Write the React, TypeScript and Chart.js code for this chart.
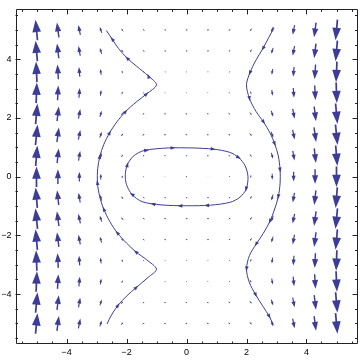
import React, { useEffect, useRef } from "react";
import { Chart, registerables } from "chart.js";

Chart.register(...registerables);

// ---- axis ranges & ticks ----
const xRange = [-5.7, 5.7];
const yRange = [-5.7, 5.7];
const majorTicks = [-4, -2, 0, 2, 4];
const minorTicks = [-5.5, -5, -4.5, -3.5, -3, -2.5, -1.5, -1, -0.5, 0.5, 1, 1.5, 2.5, 3, 3.5, 4.5, 5, 5.5];

// ---- vector field grid (15 x 15) ----
const gridX = [-5, -4.286, -3.571, -2.857, -2.143, -1.429, -0.714, 0, 0.714, 1.429, 2.143, 2.857, 3.571, 4.286, 5];
const gridY = [-5, -4.286, -3.571, -2.857, -2.143, -1.429, -0.714, 0, 0.714, 1.429, 2.143, 2.857, 3.571, 4.286, 5];
// vertical component of the drawn arrows per column (data units)
const columnVy = [0.7, 0.5, 0.33, 0.2, 0.09, 0.035, 0.01, 0, -0.01, -0.035, -0.09, -0.2, -0.33, -0.5, -0.7];
// horizontal component of the drawn arrows per row (data units)
const rowVx = [0.065, 0.06, 0.03, -0.025, -0.06, -0.068, -0.055, 0, 0.055, 0.068, 0.06, 0.025, -0.03, -0.06, -0.065];

// ---- stream lines (in flow order) ----
const leftStream = [
  [-2.65, -5.02], [-2.5, -4.71], [-2.28, -4.38], [-2.0, -4.07], [-1.67, -3.77], [-1.28, -3.43], [-1.0, -3.15],
  [-1.33, -2.83], [-1.69, -2.56], [-2.0, -2.26], [-2.31, -1.91], [-2.56, -1.52], [-2.76, -1.1], [-2.89, -0.69],
  [-2.97, -0.2], [-2.96, 0.27], [-2.89, 0.69], [-2.76, 1.09], [-2.56, 1.5], [-2.32, 1.87], [-2.03, 2.22],
  [-1.68, 2.54], [-1.33, 2.82], [-1.0, 3.13], [-1.27, 3.43], [-1.66, 3.76], [-1.98, 4.04], [-2.26, 4.36],
  [-2.48, 4.69], [-2.67, 4.98],
];
const rightStream = [
  [2.92, 5.07], [2.74, 4.74], [2.55, 4.37], [2.32, 3.98], [2.11, 3.53], [2.0, 3.13], [2.1, 2.66], [2.32, 2.22],
  [2.57, 1.86], [2.78, 1.5], [2.94, 1.12], [3.06, 0.71], [3.12, 0.23], [3.12, -0.22], [3.06, -0.68], [2.94, -1.1],
  [2.78, -1.52], [2.56, -1.93], [2.32, -2.3], [2.1, -2.68], [2.0, -3.14], [2.09, -3.59], [2.31, -4.03],
  [2.55, -4.42], [2.76, -4.76], [2.89, -5.04],
];
const loopStream = [
  [0.22, 0.98], [0.89, 0.94], [1.44, 0.83], [1.74, 0.65], [1.95, 0.38], [2.05, 0.0], [1.99, -0.42], [1.78, -0.7],
  [1.46, -0.87], [0.8, -0.97], [0.0, -0.99], [-0.85, -0.96], [-1.48, -0.85], [-1.82, -0.6], [-2.0, -0.27],
  [-2.04, 0.07], [-1.97, 0.41], [-1.77, 0.7], [-1.42, 0.89], [-0.6, 0.98], [0.22, 0.98],
];

// ---- arrowhead positions on the stream lines ----
const leftArrows = [
  [-2.28, -4.38], [-1.67, -3.77], [-1.69, -2.56], [-2.31, -1.91], [-2.76, -1.1], [-2.97, -0.2], [-2.89, 0.69],
  [-2.56, 1.5], [-2.03, 2.22], [-1.33, 2.82], [-1.27, 3.43], [-1.98, 4.04], [-2.48, 4.69],
];
const rightArrows = [
  [2.55, 4.37], [2.11, 3.53], [2.1, 2.66], [2.57, 1.86], [2.94, 1.12], [3.12, 0.23], [3.06, -0.68], [2.78, -1.52],
  [2.32, -2.3], [2.0, -3.14], [2.31, -4.03], [2.76, -4.76],
];
const loopArrows = [
  [-1.33, 0.9], [-0.45, 0.98], [0.89, 0.94], [1.74, 0.65], [1.99, -0.42], [0.67, -0.98], [-0.22, -0.99],
  [-1.12, -0.93], [-1.82, -0.6], [-1.97, 0.41],
];

const COLOR = "rgb(61,61,153)";
const FONT = "'Liberation Sans', Arial, sans-serif";

function fmt(v: number) {
  return v < 0 ? "\u2212" + Math.abs(v) : String(v);
}

function drawHead(ctx: CanvasRenderingContext2D, tx: number, ty: number, ux: number, uy: number, len: number, w: number) {
  const bx = tx - ux * len;
  const by = ty - uy * len;
  const px = -uy;
  const py = ux;
  ctx.beginPath();
  ctx.moveTo(tx, ty);
  ctx.lineTo(bx + px * w / 2, by + py * w / 2);
  ctx.lineTo(bx - px * w / 2, by - py * w / 2);
  ctx.closePath();
  ctx.fill();
}

const vectorPlugin = {
  id: "vectorField",
  beforeDatasetsDraw(chart: any) {
    const { ctx, chartArea, scales } = chart;
    const sx = scales.x;
    const sy = scales.y;
    ctx.save();
    ctx.beginPath();
    ctx.rect(chartArea.left, chartArea.top, chartArea.right - chartArea.left, chartArea.bottom - chartArea.top);
    ctx.clip();
    ctx.fillStyle = COLOR;
    ctx.strokeStyle = COLOR;
    for (let i = 0; i < gridX.length; i++) {
      for (let j = 0; j < gridY.length; j++) {
        const vx = rowVx[j];
        const vy = columnVy[i];
        const x0 = sx.getPixelForValue(gridX[i] - vx / 2);
        const y0 = sy.getPixelForValue(gridY[j] - vy / 2);
        const x1 = sx.getPixelForValue(gridX[i] + vx / 2);
        const y1 = sy.getPixelForValue(gridY[j] + vy / 2);
        const L = Math.hypot(x1 - x0, y1 - y0);
        if (L < 0.01) {
          ctx.fillRect(x0 - 0.5, y0 - 0.5, 1, 1);
          continue;
        }
        const ux = (x1 - x0) / L;
        const uy = (y1 - y0) / L;
        const hl = L * 0.6;
        const hw = Math.max(1.2, L * 0.42);
        ctx.lineWidth = 0.7 + L * 0.05;
        ctx.beginPath();
        ctx.moveTo(x0, y0);
        ctx.lineTo(x1 - ux * hl * 0.6, y1 - uy * hl * 0.6);
        ctx.stroke();
        drawHead(ctx, x1, y1, ux, uy, hl, hw);
      }
    }
    ctx.restore();
  },
  afterDatasetsDraw(chart: any) {
    const { ctx, chartArea, scales } = chart;
    const sx = scales.x;
    const sy = scales.y;
    ctx.save();
    ctx.beginPath();
    ctx.rect(chartArea.left, chartArea.top, chartArea.right - chartArea.left, chartArea.bottom - chartArea.top);
    ctx.clip();
    ctx.fillStyle = COLOR;
    const sets: [number[][], number[][]][] = [
      [leftStream, leftArrows],
      [rightStream, rightArrows],
      [loopStream, loopArrows],
    ];
    for (const [line, arrows] of sets) {
      const pts = line.map(([x, y]) => [sx.getPixelForValue(x), sy.getPixelForValue(y)]);
      for (const [ax, ay] of arrows) {
        const px = sx.getPixelForValue(ax);
        const py = sy.getPixelForValue(ay);
        let best = 0;
        let bestD = Infinity;
        for (let k = 0; k < pts.length - 1; k++) {
          const [x0, y0] = pts[k];
          const [x1, y1] = pts[k + 1];
          const dx = x1 - x0;
          const dy = y1 - y0;
          const t = Math.max(0, Math.min(1, ((px - x0) * dx + (py - y0) * dy) / (dx * dx + dy * dy)));
          const d = Math.hypot(x0 + t * dx - px, y0 + t * dy - py);
          if (d < bestD) {
            bestD = d;
            best = k;
          }
        }
        const a = pts[Math.max(0, best - 1)];
        const b = pts[Math.min(pts.length - 1, best + 2)];
        const dx = b[0] - a[0];
        const dy = b[1] - a[1];
        const L = Math.hypot(dx, dy);
        const ux = dx / L;
        const uy = dy / L;
        drawHead(ctx, px + ux * 2.5, py + uy * 2.5, ux, uy, 5, 3.6);
      }
    }
    ctx.restore();
  },
};

const framePlugin = {
  id: "frameTicks",
  afterDraw(chart: any) {
    const { ctx, chartArea, scales } = chart;
    const sx = scales.x;
    const sy = scales.y;
    const { left, right, top, bottom } = chartArea;
    ctx.save();
    ctx.strokeStyle = "#222";
    ctx.lineWidth = 1;
    ctx.beginPath();
    ctx.rect(Math.round(left) + 0.5, Math.round(top) + 0.5, Math.round(right - left) - 1, Math.round(bottom - top) - 1);
    ctx.stroke();
    const tick = (v: number, len: number) => {
      const x = Math.round(sx.getPixelForValue(v)) + 0.5;
      const y = Math.round(sy.getPixelForValue(v)) + 0.5;
      ctx.beginPath();
      if (x > left && x < right) {
        ctx.moveTo(x, bottom);
        ctx.lineTo(x, bottom - len);
        ctx.moveTo(x, top);
        ctx.lineTo(x, top + len);
      }
      if (y > top && y < bottom) {
        ctx.moveTo(left, y);
        ctx.lineTo(left + len, y);
        ctx.moveTo(right, y);
        ctx.lineTo(right - len, y);
      }
      ctx.stroke();
    };
    majorTicks.forEach((v) => tick(v, 5));
    minorTicks.forEach((v) => tick(v, 2.5));
    ctx.restore();
  },
};

export default function App() {
  const ref = useRef<HTMLCanvasElement | null>(null);
  useEffect(() => {
    document.body.style.margin = "0";
    const canvas = ref.current;
    if (!canvas) return;
    const toPts = (arr: number[][]) => arr.map(([x, y]) => ({ x, y }));
    const lineStyle = {
      showLine: true,
      pointRadius: 0,
      borderColor: COLOR,
      borderWidth: 1,
      tension: 0.3,
      fill: false,
    };
    const chart = new Chart(canvas, {
      type: "scatter",
      data: {
        datasets: [
          { data: toPts(leftStream), ...lineStyle },
          { data: toPts(rightStream), ...lineStyle },
          { data: toPts(loopStream), ...lineStyle },
        ] as any,
      },
      options: {
        responsive: false,
        animation: false,
        layout: { padding: { top: 1, right: 2.5, left: 0, bottom: 0 } },
        plugins: { legend: { display: false }, tooltip: { enabled: false } },
        scales: {
          x: {
            type: "linear",
            min: xRange[0],
            max: xRange[1],
            grid: { display: false, drawTicks: false },
            border: { display: false },
            afterBuildTicks: (s: any) => {
              s.ticks = majorTicks.map((v) => ({ value: v }));
            },
            afterFit: (s: any) => {
              s.height = 16;
            },
            ticks: {
              padding: 3,
              color: "#000",
              autoSkip: false,
              maxRotation: 0,
              font: { family: FONT, size: 9 },
              callback: (v: any) => fmt(Number(v)),
            },
          },
          y: {
            type: "linear",
            min: yRange[0],
            max: yRange[1],
            grid: { display: false, drawTicks: false },
            border: { display: false },
            afterBuildTicks: (s: any) => {
              s.ticks = majorTicks.map((v) => ({ value: v }));
            },
            afterFit: (s: any) => {
              s.width = 15.5;
            },
            ticks: {
              padding: 4,
              color: "#000",
              autoSkip: false,
              font: { family: FONT, size: 9 },
              callback: (v: any) => fmt(Number(v)),
            },
          },
        },
      } as any,
      plugins: [vectorPlugin, framePlugin],
    });
    return () => chart.destroy();
  }, []);
  return <canvas ref={ref} width={360} height={360} style={{ display: "block" }} />;
}
